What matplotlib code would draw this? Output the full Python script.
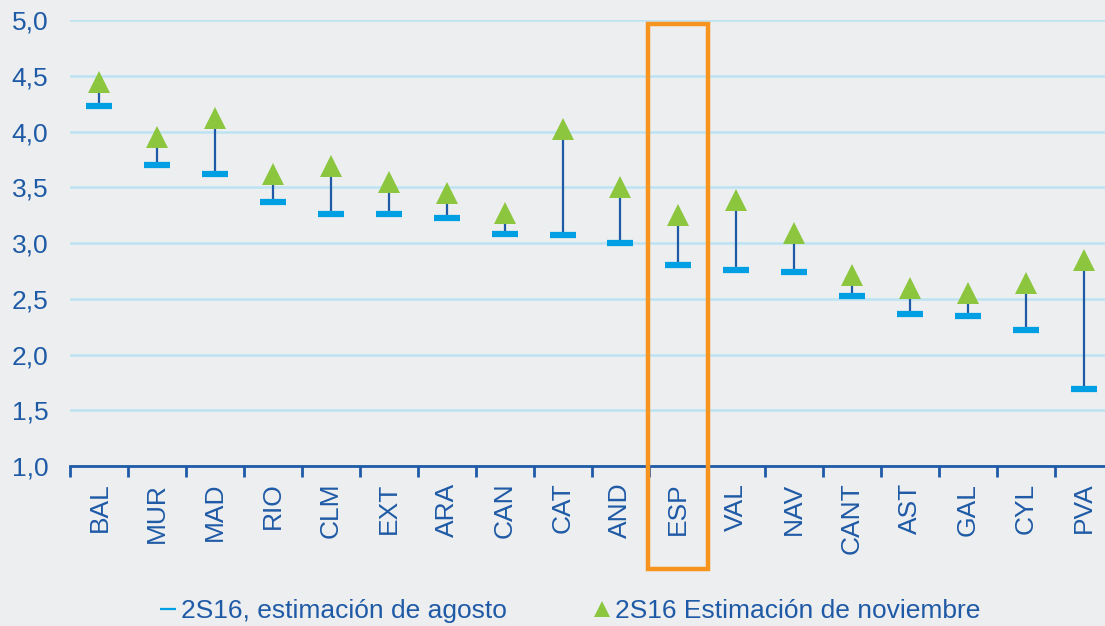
import matplotlib
matplotlib.use('Agg')
import matplotlib.pyplot as plt
from matplotlib.lines import Line2D
from matplotlib.patches import Rectangle
from matplotlib.ticker import FixedLocator, FuncFormatter

# ── data ────────────────────────────────────────────
regions = ['BAL', 'MUR', 'MAD', 'RIO', 'CLM', 'EXT', 'ARA', 'CAN', 'CAT',
           'AND', 'ESP', 'VAL', 'NAV', 'CANT', 'AST', 'GAL', 'CYL', 'PVA']
est_agosto = [4.23, 3.70, 3.62, 3.37, 3.26, 3.26, 3.23, 3.08, 3.07,
              3.00, 2.80, 2.76, 2.74, 2.53, 2.36, 2.35, 2.22, 1.69]
est_noviembre = [4.45, 3.95, 4.12, 3.62, 3.69, 3.55, 3.45, 3.27, 4.02,
                 3.50, 3.25, 3.39, 3.09, 2.71, 2.60, 2.55, 2.64, 2.85]
yticks = [1.0, 1.5, 2.0, 2.5, 3.0, 3.5, 4.0, 4.5, 5.0]
highlight = 'ESP'

label_aug = '2S16, estimación de agosto'
label_nov = '2S16 Estimación de noviembre'

# ── styles ──────────────────────────────────────────
BG = '#eceef0'
DARK = '#1f5aa6'
LIGHT = '#009fe3'
GREEN = '#8cc63f'
GRID = '#bde3f3'
ORANGE = '#f7941d'
FS = 19

plt.rcParams['font.family'] = ['Liberation Sans', 'DejaVu Sans']

fig = plt.figure(figsize=(11.05, 6.26), dpi=100, facecolor=BG)
ax = fig.add_axes([0.0638, 0.2556, 0.943, 0.712], facecolor=BG)

x = list(range(len(regions)))

# connector lines, then the two series
ax.vlines(x, est_agosto, est_noviembre, color=DARK, lw=1.6, zorder=2)
ax.plot(x, est_agosto, ls='none', marker='_', ms=19, mew=4.5,
        color=LIGHT, zorder=3)
ax.plot(x, est_noviembre, ls='none', marker='^', ms=16, mew=0,
        color=GREEN, zorder=4)

ax.set_xlim(-0.5, len(regions) - 0.5)
ax.set_ylim(yticks[0], yticks[-1])

# y axis
ax.yaxis.set_major_locator(FixedLocator(yticks))
ax.yaxis.set_major_formatter(FuncFormatter(lambda v, _: f'{v:.1f}'.replace('.', ',')))
ax.tick_params(axis='y', length=0, pad=16, labelsize=FS, labelcolor=DARK)
ax.grid(axis='y', color=GRID, lw=1.8)
ax.set_axisbelow(True)

# x axis: labels at centres, tick marks at boundaries
ax.set_xticks(x)
ax.set_xticklabels(regions, rotation=90, fontsize=FS, color=DARK, va='top')
ax.tick_params(axis='x', which='major', length=0, pad=12)
ax.set_xticks([i - 0.5 for i in range(len(regions) + 1)], minor=True)
ax.tick_params(axis='x', which='minor', length=8, width=2, color=DARK,
               direction='out')

for side in ['top', 'right', 'left']:
    ax.spines[side].set_visible(False)
ax.spines['bottom'].set_color(DARK)
ax.spines['bottom'].set_linewidth(2)
ax.spines['bottom'].set_zorder(5)

# highlight box around ESP
hi = regions.index(highlight)
ax.add_patch(Rectangle((hi - 0.52, 0.075), 1.04, 4.895, fill=False,
                       edgecolor=ORANGE, lw=3.2, clip_on=False, zorder=6))

# legend
handles = [
    Line2D([], [], ls='none', marker='_', ms=11, mew=1.6, color=LIGHT),
    Line2D([], [], ls='none', marker='^', ms=11.5, mew=0, color=GREEN),
]
fig.legend(handles, [label_aug, label_nov], loc='center',
           bbox_to_anchor=(0.516, 0.024), ncol=2, frameon=False,
           fontsize=FS, labelcolor=DARK, handlelength=0.6,
           handletextpad=0.2, columnspacing=3.3, borderpad=0)

fig.savefig('out.png', dpi=100, facecolor=fig.get_facecolor())
